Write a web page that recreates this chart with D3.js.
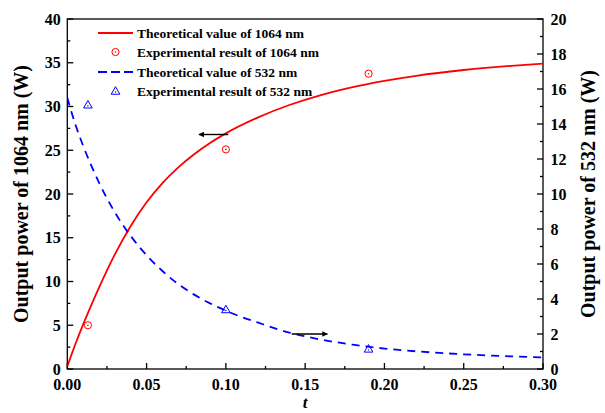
<!DOCTYPE html>
<html><head><meta charset="utf-8">
<script src="https://cdn.jsdelivr.net/npm/d3@7"></script>
<style>
html,body{margin:0;padding:0;background:#fff;}
svg text{font-family:"Liberation Serif","Times New Roman",serif;font-weight:bold;}
</style></head>
<body><svg id="c" width="605" height="413"></svg>
<script>
// ---- data ----
const theoT1064 = [0,0.005,0.01,0.015,0.02,0.03,0.04,0.05,0.06,0.07,0.08,0.09,0.10,0.12,0.14,0.16,0.18,0.20,0.22,0.25,0.28,0.30];
const theoP1064 = [0.3,2.8,5.1,7.25,9.3,13.1,16.35,19.05,21.25,23.05,24.55,25.83,26.93,28.73,30.17,31.31,32.21,32.93,33.51,34.17,34.65,34.89];
const expT1064 = [0.013,0.10,0.19];
const expP1064 = [5.0,25.1,33.75];
const theoT532 = [0,0.005,0.01,0.015,0.02,0.03,0.04,0.05,0.06,0.07,0.08,0.09,0.10,0.11,0.12,0.14,0.16,0.18,0.20,0.22,0.25,0.28,0.30];
const theoP532 = [15.5,14.0,12.75,11.65,10.65,8.95,7.6,6.5,5.6,4.85,4.25,3.75,3.33,2.97,2.66,2.08,1.68,1.39,1.17,1.01,0.84,0.72,0.66];
const expT532 = [0.013,0.10,0.19];
const expP532 = [15.1,3.4,1.15];
const xTicks = [0,0.05,0.10,0.15,0.20,0.25,0.30];
const yLeftTicks = [0,5,10,15,20,25,30,35,40];
const yRightTicks = [0,2,4,6,8,10,12,14,16,18,20];
const legendLabels = ["Theoretical value of 1064 nm","Experimental result of 1064 nm","Theoretical value of 532 nm","Experimental result of 532 nm"];
// arrows: [t0, value0, t1, value1, axis]
const arrows = [[0.1015,26.8,0.083,26.8,"left"],[0.1415,2.0,0.164,2.0,"right"]];

const svg = d3.select("#c");
const L=67.3, R=543, T=19, B=369;
const x = d3.scaleLinear().domain([0,0.30]).range([L,R]);
const yL = d3.scaleLinear().domain([0,40]).range([B,T]);
const yR = d3.scaleLinear().domain([0,20]).range([B,T]);
const red="#ff0000", blue="#0000ff";

svg.append("defs").append("clipPath").attr("id","clip")
  .append("rect").attr("x",L).attr("y",T).attr("width",R-L).attr("height",B-T);
const mk = svg.append("defs").append("marker").attr("id","ah").attr("viewBox","0 0 10 10")
  .attr("refX",9).attr("refY",5).attr("markerWidth",4.5).attr("markerHeight",4)
  .attr("markerUnits","strokeWidth").attr("orient","auto");
mk.append("path").attr("d","M0,0 L10,5 L0,10 z").attr("fill","#000");

// frame
svg.append("rect").attr("x",L).attr("y",T).attr("width",R-L).attr("height",B-T)
  .attr("fill","none").attr("stroke","#000").attr("stroke-width",1.3);

function ticks(g, sc, vals, minorVals, dir, len, minorLen){
  const all = vals.map(v=>[v,len]).concat(minorVals.map(v=>[v,minorLen]));
  all.forEach(([v,l])=>{
    const p = sc(v);
    if(dir==="bottom") g.append("line").attr("x1",p).attr("x2",p).attr("y1",B).attr("y2",B-l);
    if(dir==="left") g.append("line").attr("y1",p).attr("y2",p).attr("x1",L).attr("x2",L+l);
    if(dir==="right") g.append("line").attr("y1",p).attr("y2",p).attr("x1",R).attr("x2",R-l);
  });
  g.attr("stroke","#000").attr("stroke-width",1.3);
}
const mid = a => a.slice(0,-1).map((v,i)=>(v+a[i+1])/2);
ticks(svg.append("g"), x, xTicks, mid(xTicks), "bottom", 6, 3);
ticks(svg.append("g"), yL, yLeftTicks, mid(yLeftTicks), "left", 6, 3);
ticks(svg.append("g"), yR, yRightTicks, mid(yRightTicks), "right", 6, 3);

const fs = 16;
svg.append("g").selectAll("text").data(xTicks).join("text")
  .attr("x",d=>x(d)).attr("y",B+21).attr("text-anchor","middle").attr("font-size",fs)
  .text(d=>d3.format(".2f")(d));
svg.append("g").selectAll("text").data(yLeftTicks).join("text")
  .attr("x",L-6.5).attr("y",d=>yL(d)+5.5).attr("text-anchor","end").attr("font-size",fs)
  .text(d=>d);
svg.append("g").selectAll("text").data(yRightTicks).join("text")
  .attr("x",R+7.5).attr("y",d=>yR(d)+5.5).attr("text-anchor","start").attr("font-size",fs)
  .text(d=>d);

// axis titles
svg.append("text").attr("transform",`translate(${28},${(T+B)/2}) rotate(-90)`)
  .attr("text-anchor","middle").attr("font-size",20).text("Output power of 1064 nm (W)");
svg.append("text").attr("transform",`translate(${595},${(T+B)/2}) rotate(-90)`)
  .attr("text-anchor","middle").attr("font-size",20).text("Output power of 532 nm (W)");
svg.append("text").attr("x",(L+R)/2).attr("y",408).attr("text-anchor","middle")
  .attr("font-size",17).attr("font-style","italic").text("t");

const plot = svg.append("g").attr("clip-path","url(#clip)");
const line1064 = d3.line().x(d=>x(d[0])).y(d=>yL(d[1])).curve(d3.curveMonotoneX);
const line532 = d3.line().x(d=>x(d[0])).y(d=>yR(d[1])).curve(d3.curveMonotoneX);
plot.append("path").datum(d3.zip(theoT1064,theoP1064)).attr("d",line1064)
  .attr("fill","none").attr("stroke",red).attr("stroke-width",1.8);
plot.append("path").datum(d3.zip(theoT532,theoP532)).attr("d",line532)
  .attr("fill","none").attr("stroke",blue).attr("stroke-width",1.8).attr("stroke-dasharray","8,6");

function circleMarker(g,cx,cy){
  g.append("circle").attr("cx",cx).attr("cy",cy).attr("r",3.6).attr("fill","none").attr("stroke",red).attr("stroke-width",1);
  g.append("circle").attr("cx",cx).attr("cy",cy).attr("r",0.8).attr("fill",red);
}
function triMarker(g,cx,cy){
  const s=4.3;
  g.append("path").attr("d",`M${cx},${cy-s} L${cx+s},${cy+s*0.75} L${cx-s},${cy+s*0.75} Z`)
    .attr("fill","none").attr("stroke",blue).attr("stroke-width",1);
  g.append("circle").attr("cx",cx).attr("cy",cy+1).attr("r",0.7).attr("fill",blue);
}
d3.zip(expT1064,expP1064).forEach(d=>circleMarker(plot,x(d[0]),yL(d[1])));
d3.zip(expT532,expP532).forEach(d=>triMarker(plot,x(d[0]),yR(d[1])));

arrows.forEach(a=>{
  const ys = a[4]==="left"?yL:yR;
  svg.append("line").attr("x1",x(a[0])).attr("y1",ys(a[1])).attr("x2",x(a[2])).attr("y2",ys(a[3]))
    .attr("stroke","#000").attr("stroke-width",1.4).attr("marker-end","url(#ah)");
});

// legend
const lg = svg.append("g");
const lx0=98, lx1=133, ly=[33,52,72,91];
legendLabels.forEach((t,i)=>{
  lg.append("text").attr("x",137).attr("y",ly[i]+4.5).attr("font-size",13.5).text(t);
});
lg.append("line").attr("x1",lx0).attr("x2",lx1).attr("y1",ly[0]).attr("y2",ly[0]).attr("stroke",red).attr("stroke-width",1.8);
circleMarker(lg,(lx0+lx1)/2,ly[1]);
lg.append("line").attr("x1",lx0).attr("x2",lx1).attr("y1",ly[2]).attr("y2",ly[2]).attr("stroke",blue).attr("stroke-width",1.8).attr("stroke-dasharray","9,4");
triMarker(lg,(lx0+lx1)/2,ly[3]);
</script></body></html>
